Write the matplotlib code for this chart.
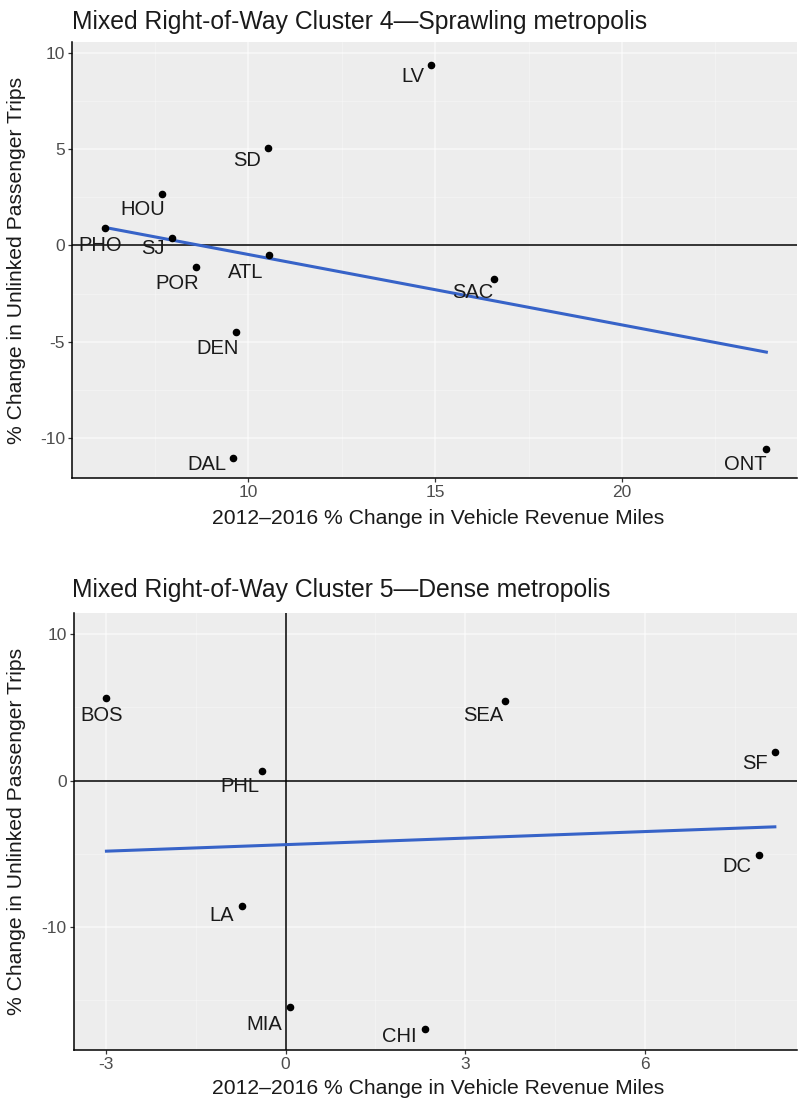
import matplotlib
matplotlib.use("Agg")
import matplotlib.pyplot as plt
import numpy as np

plt.rcParams["font.family"] = ["Liberation Sans", "DejaVu Sans"]
plt.rcParams["axes.unicode_minus"] = False

# Cluster 4 - sprawling metropolis
c4_city = ["LV", "SD", "HOU", "PHO", "SJ", "POR", "ATL", "SAC", "DEN", "DAL", "ONT"]
c4_vrm = [14.9, 10.53, 7.69, 6.18, 7.96, 8.61, 10.57, 16.58, 9.68, 9.59, 23.86]
c4_upt = [9.38, 5.07, 2.66, 0.92, 0.40, -1.13, -0.47, -1.74, -4.51, -11.06, -10.56]
# label offsets in pixels (dx, dy), ggrepel-style placement
c4_off = [(-18, -12), (-21, -13), (-19, -15), (-5, -18), (-19, -11), (-19, -16),
          (-24, -18), (-21, -14), (-19, -16), (-26, -6), (-21, -16)]

# Cluster 5 - dense metropolis
c5_city = ["BOS", "SEA", "SF", "PHL", "DC", "LA", "MIA", "CHI"]
c5_vrm = [-2.99, 3.67, 8.17, -0.40, 7.90, -0.73, 0.07, 2.33]
c5_upt = [5.62, 5.46, 1.98, 0.68, -5.07, -8.53, -15.47, -16.97]
c5_off = [(-5, -17), (-22, -15), (-20, -12), (-22, -16), (-22, -12), (-20, -10),
          (-25, -17), (-26, -7)]

W, H = 806, 1101
fig = plt.figure(figsize=(W / 100, H / 100), dpi=100)
fig.patch.set_facecolor("white")

BG = "#ededed"
TICK_COL = "#4d4d4d"


def px_rect(left, top, right, bottom):
    return [left / W, 1 - bottom / H, (right - left) / W, (bottom - top) / H]


def style_axes(ax, xticks, yticks, xminor, yminor):
    ax.set_facecolor(BG)
    ax.set_xticks(xticks)
    ax.set_yticks(yticks)
    ax.set_xticks(xminor, minor=True)
    ax.set_yticks(yminor, minor=True)
    ax.grid(True, which="major", color="white", lw=1.1, alpha=0.6)
    ax.grid(True, which="minor", color="white", lw=0.5, alpha=0.4)
    ax.set_axisbelow(True)
    for s in ["top", "right"]:
        ax.spines[s].set_visible(False)
    for s in ["left", "bottom"]:
        ax.spines[s].set_color("black")
        ax.spines[s].set_linewidth(1.1)
    ax.tick_params(which="major", length=3, width=0.9, color="#333333",
                   labelcolor=TICK_COL, labelsize=12.5, pad=2)
    ax.tick_params(which="minor", length=0)


def draw_panel(ax, xs, ys, names, offs):
    xs = np.array(xs)
    ys = np.array(ys)
    ax.axhline(0, color="black", lw=1.1, zorder=2)
    b, a = np.polyfit(xs, ys, 1)
    xl = np.array([xs.min(), xs.max()])
    ax.plot(xl, a + b * xl, color="#3763c8", lw=2.2, zorder=3)
    ax.scatter(xs, ys, s=20, color="black", zorder=4)
    for x, y, n, (dx, dy) in zip(xs, ys, names, offs):
        ax.annotate(n, (x, y), textcoords="offset pixels", xytext=(dx, dy),
                    ha="center", va="center", fontsize=14.5, color="#1a1a1a",
                    zorder=5)


# top panel
ax1 = fig.add_axes(px_rect(72, 42, 797, 478))
style_axes(ax1, [10, 15, 20], [-10, -5, 0, 5, 10],
           [7.5, 12.5, 17.5, 22.5], [-7.5, -2.5, 2.5, 7.5])
draw_panel(ax1, c4_vrm, c4_upt, c4_city, c4_off)
ax1.set_xlim(5.29, 24.68)
ax1.set_ylim(-12.08, 10.57)

# bottom panel
ax2 = fig.add_axes(px_rect(73.5, 613, 797, 1050))
style_axes(ax2, [-3, 0, 3, 6], [-10, 0, 10],
           [-1.5, 1.5, 4.5, 7.5], [-15, -5, 5])
ax2.axvline(0, color="black", lw=1.1, zorder=2)
draw_panel(ax2, c5_vrm, c5_upt, c5_city, c5_off)
ax2.set_xlim(-3.54, 8.54)
ax2.set_ylim(-18.4, 11.45)

# titles and axis labels
title_kw = dict(fontsize=17.8, color="#1a1a1a", ha="left", va="center")
fig.text(72 / W, 1 - 22 / H, "Mixed Right-of-Way Cluster 4\u2014Sprawling metropolis", **title_kw)
fig.text(72 / W, 1 - 590 / H, "Mixed Right-of-Way Cluster 5\u2014Dense metropolis", **title_kw)

xlab = "2012\u20132016 % Change in Vehicle Revenue Miles"
ylab = "% Change in Unlinked Passenger Trips"
lab_kw = dict(fontsize=15.2, color="#1a1a1a", ha="center", va="center")
fig.text(438 / W, 1 - 519 / H, xlab, **lab_kw)
fig.text(438 / W, 1 - 1088 / H, xlab, **lab_kw)
fig.text(17 / W, 1 - 260 / H, ylab, rotation=90, **lab_kw)
fig.text(17 / W, 1 - 831 / H, ylab, rotation=90, **lab_kw)

fig.savefig("out.png", dpi=100)
